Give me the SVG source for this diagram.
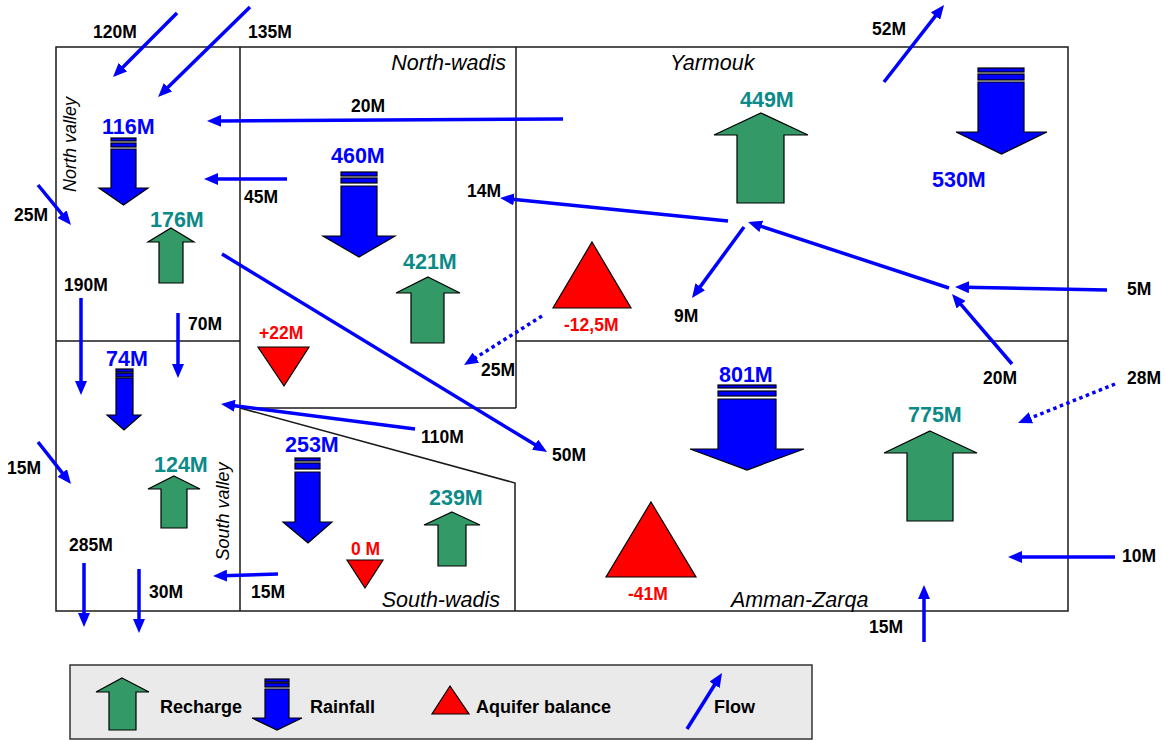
<svg xmlns="http://www.w3.org/2000/svg" width="1165" height="740" viewBox="0 0 1165 740">
  <style>
    .frame { fill: none; stroke: #1a1a1a; stroke-width: 1.5; }
    .flow { fill: none; stroke: #0000FF; stroke-width: 3.5; marker-end: url(#ah); }
    .dot { stroke-dasharray: 3.5 3.5; }
    .rain { fill: #0000FF; stroke: #000; stroke-width: 1.2; }
    .rech { fill: #339966; stroke: #000; stroke-width: 1.2; }
    .bal { fill: #FF0000; stroke: #000; stroke-width: 1.2; }
    text { font-family: "Liberation Sans", Arial, sans-serif; }
    .lbl { font-size: 17.5px; font-weight: bold; fill: #000; }
    .val { font-size: 21.5px; font-weight: bold; }
    .blue { fill: #0000FF; }
    .teal { fill: #0B8A88; }
    .red { fill: #FF0000; }
    .region { font-size: 21.5px; font-style: italic; fill: #000; }
    .vregion { font-size: 18px; font-style: italic; fill: #000; }
    .leg { font-size: 18px; font-weight: bold; fill: #000; }
  </style>
  <defs>
    <marker id="ah" markerUnits="userSpaceOnUse" markerWidth="14" markerHeight="12" viewBox="0 0 14 12" refX="4" refY="6" orient="auto">
      <path d="M0,0 L14,6 L0,12 Z" fill="#0000FF"/>
    </marker>
  </defs>

  <rect width="1165" height="740" fill="#fff"/>

  <!-- basin boundaries -->
  <g id="basins">
    <rect class="frame" x="56" y="47" width="1012" height="564"/>
    <line class="frame" x1="240" y1="47" x2="240" y2="611"/>
    <line class="frame" x1="516" y1="47" x2="516" y2="408"/>
    <line class="frame" x1="56" y1="341" x2="240" y2="341"/>
    <line class="frame" x1="240" y1="408" x2="516" y2="408"/>
    <polyline class="frame" points="240,408 515,483 515,611"/>
    <line class="frame" x1="516" y1="341" x2="1068" y2="341"/>
    <text class="region" x="506" y="70" text-anchor="end">North-wadis</text>
    <text class="region" x="670" y="70">Yarmouk</text>
    <text class="region" x="500" y="607" text-anchor="end">South-wadis</text>
    <text class="region" x="731" y="607">Amman-Zarqa</text>
    <text class="vregion" text-anchor="middle" transform="translate(76,144.5) rotate(-90)">North valley</text>
    <text class="vregion" text-anchor="middle" transform="translate(229,511.5) rotate(-90)">South valley</text>
  </g>

  <!-- North valley -->
  <g id="north-valley-rain">
    <rect class="rain" x="111" y="138" width="25" height="3"/>
    <rect class="rain" x="111" y="143" width="25" height="4"/>
    <path class="rain" d="M111,149 H136 V188 H148 L123.5,205 L99,188 H111 Z"/>
    <text class="val blue" x="102" y="134">116M</text>
  </g>
  <g id="north-valley-recharge">
    <path class="rech" d="M171,228 L194,242 H183 V283 H159 V242 H148 Z"/>
    <text class="val teal" x="150" y="227">176M</text>
  </g>

  <!-- North-wadis -->
  <g id="north-wadis-rain">
    <rect class="rain" x="341" y="172" width="36" height="4"/>
    <rect class="rain" x="341" y="178" width="36" height="5"/>
    <path class="rain" d="M341,186 H377 V236 H395 L359,257 L323,236 H341 Z"/>
    <text class="val blue" x="331" y="163">460M</text>
  </g>
  <g id="north-wadis-recharge">
    <path class="rech" d="M428,277 L460,293 H444 V343 H411 V293 H396 Z"/>
    <text class="val teal" x="403" y="269">421M</text>
  </g>
  <g id="north-wadis-balance">
    <path class="bal" d="M258,347 H309 L284,386 Z"/>
    <text class="lbl red" x="259" y="339">+22M</text>
  </g>

  <!-- Yarmouk -->
  <g id="yarmouk-recharge">
    <path class="rech" d="M761,113 L808,135 H784 V203 H737 V135 H714 Z"/>
    <text class="val teal" x="740" y="107">449M</text>
  </g>
  <g id="yarmouk-rain">
    <rect class="rain" x="978" y="68" width="46" height="4"/>
    <rect class="rain" x="978" y="74" width="46" height="6"/>
    <path class="rain" d="M978,82 H1024 V132 H1047 L1001.5,154 L956,132 H978 Z"/>
    <text class="val blue" x="932" y="187">530M</text>
  </g>
  <g id="yarmouk-balance">
    <path class="bal" d="M592,242 L631,308 H553 Z"/>
    <text class="lbl red" x="564" y="331">-12,5M</text>
  </g>

  <!-- South valley -->
  <g id="south-valley-rain">
    <rect class="rain" x="116" y="369" width="17" height="3"/>
    <rect class="rain" x="116" y="373" width="17" height="4"/>
    <path class="rain" d="M116,378 H133 V415 H141 L124,430 L107,415 H116 Z"/>
    <text class="val blue" x="106" y="366">74M</text>
  </g>
  <g id="south-valley-recharge">
    <path class="rech" d="M174,476 L200,489 H187 V528 H161 V489 H148 Z"/>
    <text class="val teal" x="154" y="472">124M</text>
  </g>

  <!-- South-wadis -->
  <g id="south-wadis-rain">
    <rect class="rain" x="295" y="458" width="25" height="3"/>
    <rect class="rain" x="295" y="463" width="25" height="6"/>
    <path class="rain" d="M295,472 H320 V522 H332 L308,543 L283,522 H295 Z"/>
    <text class="val blue" x="285" y="452">253M</text>
  </g>
  <g id="south-wadis-recharge">
    <path class="rech" d="M452,512 L480,525 H466 V566 H438 V525 H424 Z"/>
    <text class="val teal" x="429" y="505">239M</text>
  </g>
  <g id="south-wadis-balance">
    <path class="bal" d="M347,560 H383 L365,588 Z"/>
    <text class="lbl red" x="351" y="555">0 M</text>
  </g>

  <!-- Amman-Zarqa -->
  <g id="amman-zarqa-rain">
    <rect class="rain" x="718" y="385" width="58" height="3"/>
    <rect class="rain" x="718" y="391" width="58" height="5"/>
    <path class="rain" d="M718,399 H776 V449 H804 L747,470 L690,449 H718 Z"/>
    <text class="val blue" x="719" y="382">801M</text>
  </g>
  <g id="amman-zarqa-recharge">
    <path class="rech" d="M930,431 L977,453 H953 V521 H907 V453 H884 Z"/>
    <text class="val teal" x="908" y="422">775M</text>
  </g>
  <g id="amman-zarqa-balance">
    <path class="bal" d="M651,502 L696,577 H606 Z"/>
    <text class="lbl red" x="628" y="600">-41M</text>
  </g>

  <!-- groundwater flows -->
  <g id="flows">
    <line class="flow" x1="177" y1="13" x2="120.1" y2="69.9"/>
    <line class="flow" x1="250" y1="7" x2="165.2" y2="90"/>
    <line class="flow" x1="563" y1="119" x2="217" y2="120.9"/>
    <line class="flow" x1="287" y1="179" x2="214" y2="179"/>
    <line class="flow" x1="884" y1="82" x2="937.9" y2="12.9"/>
    <line class="flow" x1="728" y1="221" x2="510" y2="199"/>
    <line class="flow" x1="744" y1="227" x2="697.9" y2="289.9"/>
    <line class="flow" x1="949" y1="288" x2="757.5" y2="225.1"/>
    <line class="flow" x1="1107" y1="290" x2="965" y2="287.2"/>
    <line class="flow" x1="1012" y1="364" x2="958.5" y2="301.6"/>
    <line class="flow" x1="1115" y1="557" x2="1018" y2="557"/>
    <line class="flow" x1="924" y1="642" x2="924" y2="595"/>
    <line class="flow" x1="415" y1="429" x2="230.9" y2="405.3"/>
    <line class="flow" x1="222" y1="254" x2="538.5" y2="446.8"/>
    <line class="flow" x1="278" y1="574" x2="223" y2="575.7"/>
    <line class="flow" x1="81" y1="298" x2="81" y2="385"/>
    <line class="flow" x1="178" y1="313" x2="178" y2="368"/>
    <line class="flow" x1="38" y1="185" x2="64.6" y2="217.3"/>
    <line class="flow" x1="38" y1="442" x2="64.8" y2="476.1"/>
    <line class="flow" x1="84" y1="563" x2="84" y2="617"/>
    <line class="flow" x1="139" y1="569" x2="139" y2="623"/>
    <line class="flow dot" x1="542" y1="316" x2="472.5" y2="359.7"/>
    <line class="flow dot" x1="1115" y1="384" x2="1027.3" y2="419.3"/>

    <text class="lbl" x="93" y="38">120M</text>
    <text class="lbl" x="248" y="38">135M</text>
    <text class="lbl" x="351" y="112">20M</text>
    <text class="lbl" x="244" y="203">45M</text>
    <text class="lbl" x="872" y="35">52M</text>
    <text class="lbl" x="467" y="197">14M</text>
    <text class="lbl" x="674" y="322">9M</text>
    <text class="lbl" x="1127" y="295">5M</text>
    <text class="lbl" x="983" y="384">20M</text>
    <text class="lbl" x="1127" y="384">28M</text>
    <text class="lbl" x="1122" y="562">10M</text>
    <text class="lbl" x="869" y="633">15M</text>
    <text class="lbl" x="481" y="376">25M</text>
    <text class="lbl" x="421" y="443">110M</text>
    <text class="lbl" x="552" y="461">50M</text>
    <text class="lbl" x="251" y="598">15M</text>
    <text class="lbl" x="64" y="291">190M</text>
    <text class="lbl" x="188" y="330">70M</text>
    <text class="lbl" x="14" y="221">25M</text>
    <text class="lbl" x="7" y="474">15M</text>
    <text class="lbl" x="69" y="551">285M</text>
    <text class="lbl" x="149" y="598">30M</text>
  </g>

  <!-- legend -->
  <g id="legend">
    <rect x="70" y="665" width="742" height="74" fill="#EAEAEA" stroke="#333" stroke-width="1.5"/>
    <path class="rech" d="M122,678 L149,692 H136 V730 H109 V692 H96 Z"/>
    <text class="leg" x="160" y="713">Recharge</text>
    <rect class="rain" x="265" y="679" width="24" height="3"/>
    <rect class="rain" x="265" y="683" width="24" height="4"/>
    <path class="rain" d="M265,689 H289 V718 H302 L277,730 L252,718 H265 Z"/>
    <text class="leg" x="310" y="713">Rainfall</text>
    <path class="bal" d="M450,686 L469,714 H432 Z"/>
    <text class="leg" x="476" y="713">Aquifer balance</text>
    <line class="flow" x1="687" y1="729" x2="716.7" y2="681.5"/>
    <text class="leg" x="714" y="713">Flow</text>
  </g>
</svg>
